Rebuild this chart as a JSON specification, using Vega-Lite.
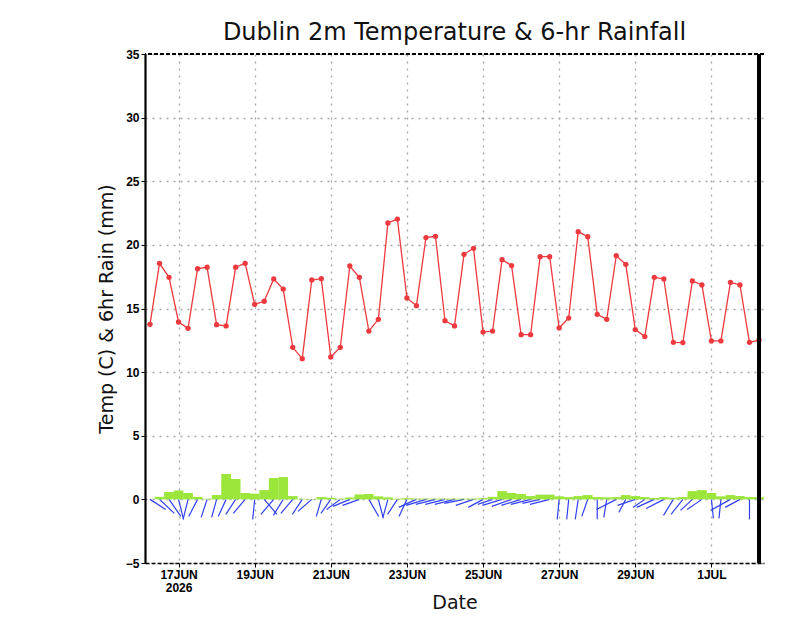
{
  "$schema": "https://vega.github.io/schema/vega-lite/v6.json",
  "autosize": {"type": "none"},
  "width": 619,
  "height": 509,
  "padding": {"left": 145, "top": 54, "right": 36, "bottom": 55},
  "background": "white",
  "title": {
    "text": "Dublin 2m Temperature & 6-hr Rainfall",
    "font": "DejaVu Sans",
    "fontSize": 24,
    "fontWeight": "normal",
    "color": "#111",
    "anchor": "middle",
    "offset": 3
  },
  "data": {
    "values": [
      {"t": "2026-06-16T06:00", "temp": 13.76, "rain": 0, "we": "2026-06-16T15:57", "wv": -0.79},
      {"t": "2026-06-16T12:00", "temp": 18.55, "rain": 0.2, "we": "2026-06-16T21:20", "wv": -1.1},
      {"t": "2026-06-16T18:00", "temp": 17.45, "rain": 0.58, "we": "2026-06-17T01:28", "wv": -1.34},
      {"t": "2026-06-17T00:00", "temp": 13.94, "rain": 0.7, "we": "2026-06-17T03:07", "wv": -1.57},
      {"t": "2026-06-17T06:00", "temp": 13.44, "rain": 0.5, "we": "2026-06-17T02:53", "wv": -1.57},
      {"t": "2026-06-17T12:00", "temp": 18.13, "rain": 0.2, "we": "2026-06-17T06:24", "wv": -1.34},
      {"t": "2026-06-17T18:00", "temp": 18.24, "rain": 0.05, "we": "2026-06-17T14:16", "wv": -1.41},
      {"t": "2026-06-18T00:00", "temp": 13.73, "rain": 0.34, "we": "2026-06-17T20:53", "wv": -1.41},
      {"t": "2026-06-18T06:00", "temp": 13.63, "rain": 1.99, "we": "2026-06-18T01:02", "wv": -1.34},
      {"t": "2026-06-18T12:00", "temp": 18.24, "rain": 1.6, "we": "2026-06-18T05:47", "wv": -1.18},
      {"t": "2026-06-18T18:00", "temp": 18.55, "rain": 0.5, "we": "2026-06-18T10:32", "wv": -1.1},
      {"t": "2026-06-19T00:00", "temp": 15.33, "rain": 0.45, "we": "2026-06-18T22:45", "wv": -1.57},
      {"t": "2026-06-19T06:00", "temp": 15.57, "rain": 0.73, "we": "2026-06-19T14:05", "wv": -1.18},
      {"t": "2026-06-19T12:00", "temp": 17.32, "rain": 1.68, "we": "2026-06-19T03:55", "wv": -1.18},
      {"t": "2026-06-19T18:00", "temp": 16.53, "rain": 1.75, "we": "2026-06-19T11:47", "wv": -1.26},
      {"t": "2026-06-20T00:00", "temp": 11.95, "rain": 0.26, "we": "2026-06-19T16:32", "wv": -1.1},
      {"t": "2026-06-20T06:00", "temp": 11.06, "rain": 0.05, "we": "2026-06-19T23:47", "wv": -1.18},
      {"t": "2026-06-20T12:00", "temp": 17.24, "rain": 0.03, "we": "2026-06-20T03:18", "wv": -0.94},
      {"t": "2026-06-20T18:00", "temp": 17.34, "rain": 0.18, "we": "2026-06-20T14:53", "wv": -1.34},
      {"t": "2026-06-21T00:00", "temp": 11.19, "rain": 0.13, "we": "2026-06-20T17:47", "wv": -1.1},
      {"t": "2026-06-21T06:00", "temp": 11.95, "rain": 0.05, "we": "2026-06-20T21:18", "wv": -0.79},
      {"t": "2026-06-21T12:00", "temp": 18.34, "rain": 0.15, "we": "2026-06-21T01:26", "wv": -0.55},
      {"t": "2026-06-21T18:00", "temp": 17.45, "rain": 0.39, "we": "2026-06-21T07:26", "wv": -0.47},
      {"t": "2026-06-22T00:00", "temp": 13.23, "rain": 0.42, "we": "2026-06-22T06:13", "wv": -1.34},
      {"t": "2026-06-22T06:00", "temp": 14.15, "rain": 0.24, "we": "2026-06-22T09:07", "wv": -1.49},
      {"t": "2026-06-22T12:00", "temp": 21.72, "rain": 0.16, "we": "2026-06-22T08:53", "wv": -1.41},
      {"t": "2026-06-22T18:00", "temp": 22.03, "rain": 0.05, "we": "2026-06-22T11:47", "wv": -1.18},
      {"t": "2026-06-23T00:00", "temp": 15.83, "rain": 0.1, "we": "2026-06-22T19:02", "wv": -1.34},
      {"t": "2026-06-23T06:00", "temp": 15.22, "rain": 0.06, "we": "2026-06-22T18:49", "wv": -0.63},
      {"t": "2026-06-23T12:00", "temp": 20.57, "rain": 0.06, "we": "2026-06-22T23:34", "wv": -0.47},
      {"t": "2026-06-23T18:00", "temp": 20.67, "rain": 0.06, "we": "2026-06-23T05:34", "wv": -0.39},
      {"t": "2026-06-24T00:00", "temp": 14.04, "rain": 0.06, "we": "2026-06-23T11:34", "wv": -0.39},
      {"t": "2026-06-24T06:00", "temp": 13.63, "rain": 0.06, "we": "2026-06-23T17:34", "wv": -0.39},
      {"t": "2026-06-24T12:00", "temp": 19.26, "rain": 0.06, "we": "2026-06-23T23:34", "wv": -0.31},
      {"t": "2026-06-24T18:00", "temp": 19.73, "rain": 0.06, "we": "2026-06-24T06:49", "wv": -0.47},
      {"t": "2026-06-25T00:00", "temp": 13.15, "rain": 0.1, "we": "2026-06-24T14:40", "wv": -0.63},
      {"t": "2026-06-25T06:00", "temp": 13.23, "rain": 0.2, "we": "2026-06-24T20:40", "wv": -0.39},
      {"t": "2026-06-25T12:00", "temp": 18.84, "rain": 0.65, "we": "2026-06-24T23:34", "wv": -0.47},
      {"t": "2026-06-25T18:00", "temp": 18.37, "rain": 0.5, "we": "2026-06-25T05:34", "wv": -0.55},
      {"t": "2026-06-26T00:00", "temp": 12.94, "rain": 0.42, "we": "2026-06-25T11:34", "wv": -0.47},
      {"t": "2026-06-26T06:00", "temp": 12.94, "rain": 0.26, "we": "2026-06-25T17:34", "wv": -0.39},
      {"t": "2026-06-26T12:00", "temp": 19.07, "rain": 0.37, "we": "2026-06-26T00:49", "wv": -0.31},
      {"t": "2026-06-26T18:00", "temp": 19.07, "rain": 0.37, "we": "2026-06-26T05:34", "wv": -0.39},
      {"t": "2026-06-27T00:00", "temp": 13.47, "rain": 0.24, "we": "2026-06-26T22:45", "wv": -1.57},
      {"t": "2026-06-27T06:00", "temp": 14.25, "rain": 0.18, "we": "2026-06-27T04:45", "wv": -1.57},
      {"t": "2026-06-27T12:00", "temp": 21.04, "rain": 0.26, "we": "2026-06-27T10:08", "wv": -1.57},
      {"t": "2026-06-27T18:00", "temp": 20.64, "rain": 0.34, "we": "2026-06-27T14:16", "wv": -1.34},
      {"t": "2026-06-28T00:00", "temp": 14.54, "rain": 0.18, "we": "2026-06-28T00:00", "wv": -1.57},
      {"t": "2026-06-28T06:00", "temp": 14.15, "rain": 0.16, "we": "2026-06-28T04:08", "wv": -1.41},
      {"t": "2026-06-28T12:00", "temp": 19.15, "rain": 0.18, "we": "2026-06-27T23:34", "wv": -0.79},
      {"t": "2026-06-28T18:00", "temp": 18.47, "rain": 0.34, "we": "2026-06-28T13:39", "wv": -1.02},
      {"t": "2026-06-29T00:00", "temp": 13.34, "rain": 0.26, "we": "2026-06-28T12:49", "wv": -0.47},
      {"t": "2026-06-29T06:00", "temp": 12.79, "rain": 0.18, "we": "2026-06-28T22:32", "wv": -0.63},
      {"t": "2026-06-29T12:00", "temp": 17.45, "rain": 0.1, "we": "2026-06-29T00:49", "wv": -0.63},
      {"t": "2026-06-29T18:00", "temp": 17.32, "rain": 0.18, "we": "2026-06-29T06:49", "wv": -0.71},
      {"t": "2026-06-30T00:00", "temp": 12.34, "rain": 0.13, "we": "2026-06-29T17:47", "wv": -1.26},
      {"t": "2026-06-30T06:00", "temp": 12.32, "rain": 0.18, "we": "2026-06-29T22:32", "wv": -1.18},
      {"t": "2026-06-30T12:00", "temp": 17.16, "rain": 0.65, "we": "2026-06-30T04:32", "wv": -0.86},
      {"t": "2026-06-30T18:00", "temp": 16.85, "rain": 0.73, "we": "2026-06-30T08:40", "wv": -0.79},
      {"t": "2026-07-01T00:00", "temp": 12.45, "rain": 0.5, "we": "2026-07-01T01:15", "wv": -1.49},
      {"t": "2026-07-01T06:00", "temp": 12.45, "rain": 0.24, "we": "2026-07-01T04:45", "wv": -1.49},
      {"t": "2026-07-01T12:00", "temp": 17.06, "rain": 0.34, "we": "2026-06-30T23:34", "wv": -0.86},
      {"t": "2026-07-01T18:00", "temp": 16.85, "rain": 0.26, "we": "2026-07-01T08:40", "wv": -0.63},
      {"t": "2026-07-02T00:00", "temp": 12.34, "rain": 0.18, "we": "2026-07-02T00:00", "wv": -1.57},
      {"t": "2026-07-02T06:00", "temp": 12.52, "rain": 0.18, "we": "2026-07-02T06:00", "wv": -1.57}
    ]
  },
  "layer": [
    {
      "mark": {"type": "line", "opacity": 0},
      "encoding": {
        "x": {
          "field": "t",
          "type": "temporal",
          "title": "Date",
          "scale": {
            "domain": [
              {"year": 2026, "month": 6, "date": 16, "hours": 6},
              {"year": 2026, "month": 7, "date": 2, "hours": 6}
            ]
          },
          "axis": {
            "tickCount": {"interval": "day", "step": 2},
            "labelExpr": "timeFormat(datum.value, '%m%d') == '0617' ? ['17JUN', '2026'] : timeFormat(datum.value, '%-d') + upper(timeFormat(datum.value, '%b'))",
            "labelLineHeight": 13,
            "domainDash": [4, 2],
            "titlePadding": 0
          }
        },
        "y": {
          "field": "temp",
          "type": "quantitative",
          "title": "Temp (C) & 6hr Rain (mm)",
          "scale": {"domain": [-5, 35], "nice": false},
          "axis": {"values": [-5, 0, 5, 10, 15, 20, 25, 30, 35]}
        }
      }
    },
    {
      "mark": {"type": "rule", "color": "#3040f0", "strokeWidth": 1.2, "clip": true},
      "encoding": {
        "x": {"field": "we", "type": "temporal"},
        "y": {"field": "wv", "type": "quantitative"},
        "x2": {"field": "t"},
        "y2": {"datum": 0}
      }
    },
    {
      "mark": {"type": "bar", "color": "#9ce63c", "width": 9.7, "clip": true},
      "encoding": {
        "x": {"field": "t", "type": "temporal"},
        "y": {"field": "rain", "type": "quantitative"}
      }
    },
    {
      "mark": {"type": "line", "color": "#ee3a3e", "strokeWidth": 1.3, "point": {"filled": true, "size": 28, "color": "#ee3a3e"}},
      "encoding": {
        "x": {"field": "t", "type": "temporal"},
        "y": {"field": "temp", "type": "quantitative"}
      }
    },
    {
      "mark": {"type": "rule", "color": "black", "strokeDash": [4, 2], "strokeWidth": 1.2},
      "encoding": {"y": {"datum": 35, "type": "quantitative"}}
    },
    {
      "mark": {"type": "rule", "color": "black", "strokeWidth": 2.2},
      "encoding": {"x": {"datum": {"year": 2026, "month": 7, "date": 2, "hours": 6}, "type": "temporal"}}
    }
  ],
  "config": {
    "view": {"stroke": null},
    "axis": {
      "labelFont": "Liberation Sans",
      "labelFontWeight": "bold",
      "labelFontSize": 12,
      "labelColor": "black",
      "titleFont": "DejaVu Sans",
      "titleFontWeight": "normal",
      "titleFontSize": 19,
      "titleColor": "#111",
      "domainColor": "black",
      "tickColor": "black",
      "tickSize": 4,
      "labelPadding": 2,
      "grid": true,
      "gridColor": "#a6a6a6",
      "gridDash": [2, 5],
      "gridWidth": 1.3
    },
    "axisY": {
      "domainWidth": 2.2,
      "titlePadding": 9
    },
    "axisX": {
      "domainWidth": 1.3
    }
  }
}
